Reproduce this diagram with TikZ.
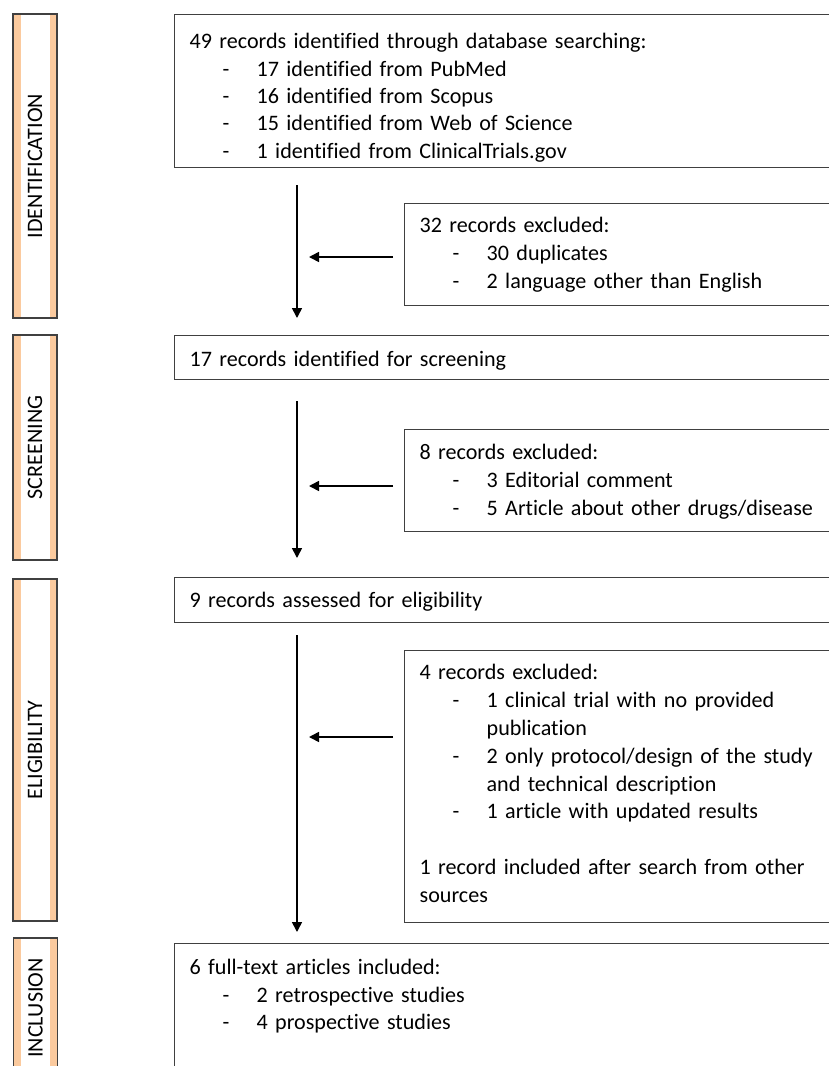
\documentclass[tikz,border=0pt]{standalone}
\usepackage{fontspec}
\setmainfont{Carlito}[Ligatures=NoCommon]
\usepackage{tikz}
\usetikzlibrary{arrows.meta,positioning,calc}

\definecolor{peach}{RGB}{251,202,158}
\definecolor{edge}{RGB}{64,64,64}
\newcommand{\dashitem}{\makebox[67pt][l]{\hspace*{33pt}-}}
\newcommand{\contitem}{\hspace*{67pt}}

\begin{document}
\begin{tikzpicture}[
    x=1pt, y=-1pt,
    box/.style={draw=edge, line width=1.3pt, anchor=north west, align=left, inner xsep=15pt, inner ysep=0pt, text width=#1, text height=30pt, font=\fontsize{22.1}{27.4}\selectfont},
    box/.default=640pt,
    exbox/.style={box=440pt, font=\fontsize{22.1}{27.85}\selectfont},
    stage/.style={draw=edge, line width=1.3pt, fill=white, minimum width=44pt, minimum height=#1, inner sep=0pt, font=\fontsize{22.1}{27.4}\selectfont,
        path picture={
            \fill[peach] (path picture bounding box.north west) rectangle ([xshift=7.5pt]path picture bounding box.south west);
            \fill[peach] ([xshift=-7.5pt]path picture bounding box.north east) rectangle (path picture bounding box.south east);
        }},
    arr/.style={-{Triangle[length=10pt,width=10pt]}, line width=1.6pt}
]
\useasboundingbox (0,0) rectangle (829,1066);
\clip (0,0) rectangle (829,1066);

\node[stage=304pt] (ident) at (35,166) {\rotatebox{90}{IDENTIFICATION}};
\node[stage=225pt] (screen) at (35,447.5) {\rotatebox{90}{SCREENING}};
\node[stage=342pt] (elig) at (35,750) {\rotatebox{90}{ELIGIBILITY}};
\node[stage=140pt] (incl) at (35.5,1008) {\rotatebox{90}{INCLUSION}};

\node[box, text height=34pt, text depth=119pt] (found) at (174,14) {49 records identified through database searching:\\
    \dashitem 17 identified from PubMed\\
    \dashitem 16 identified from Scopus\\
    \dashitem 15 identified from Web of Science\\
    \dashitem 1 identified from ClinicalTrials.gov};
\node[exbox, text height=29pt, text depth=73pt] (dupl) at (404,203) {32 records excluded:\\
    \dashitem 30 duplicates\\
    \dashitem 2 language other than English};
\node[box, text height=31pt, text depth=13pt] (screened) at (174,335) {17 records identified for screening};
\node[exbox, text height=30pt, text depth=72pt] (offtopic) at (404,429) {8 records excluded:\\
    \dashitem 3 Editorial comment\\
    \dashitem 5 Article about other drugs/disease};
\node[box, text height=30pt, text depth=15pt] (assessed) at (174,577) {9 records assessed for eligibility};
\node[exbox, text height=29pt, text depth=243pt] (notelig) at (404,650) {4 records excluded:\\
    \dashitem 1 clinical trial with no provided\\
    \contitem publication\\
    \dashitem 2 only protocol/design of the study\\
    \contitem and technical description\\
    \dashitem 1 article with updated results\\
    \mbox{}\\
    1 record included after search from other\\
    sources};
\node[box, text height=31pt, text depth=129pt] (included) at (174,943) {6 full-text articles included:\\
    \dashitem 2 retrospective studies\\
    \dashitem 4 prospective studies};

\coordinate (d1a) at (297,185);
\coordinate (d1b) at (297,318);
\coordinate (e1) at (309,257);
\coordinate (d2a) at (297,401);
\coordinate (d2b) at (297,558);
\coordinate (e2) at (309,486);
\coordinate (d3a) at (297,635);
\coordinate (d3b) at (297,932);
\coordinate (e3) at (309,737);

\draw[arr] (d1a) -- (d1b);
\draw[arr] (dupl.west |- e1) ++(-11,0) -- (e1);
\draw[arr] (d2a) -- (d2b);
\draw[arr] (offtopic.west |- e2) ++(-11,0) -- (e2);
\draw[arr] (d3a) -- (d3b);
\draw[arr] (notelig.west |- e3) ++(-11,0) -- (e3);
\end{tikzpicture}
\end{document}
